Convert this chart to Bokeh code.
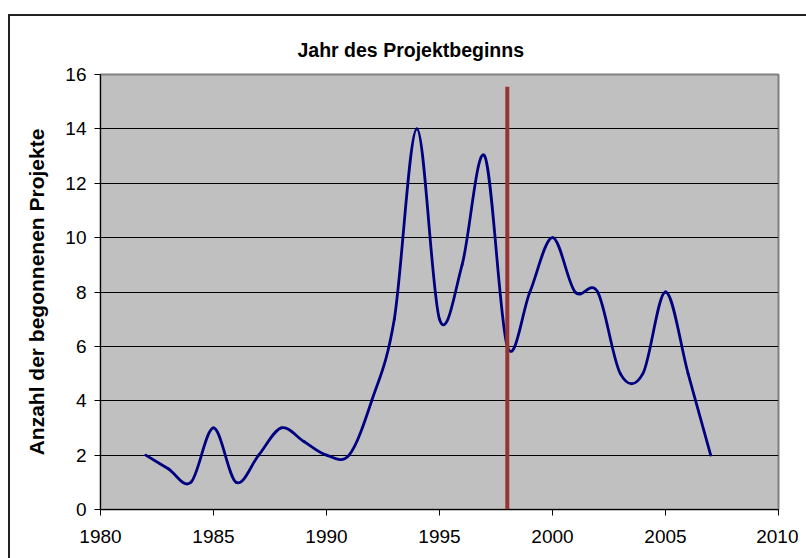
import numpy as np
from bokeh.plotting import figure
from bokeh.models import Range1d, FixedTicker
from bokeh.embed import file_html
from bokeh.resources import INLINE

# ---- data ----
years = [1982, 1983, 1984, 1985, 1986, 1987, 1988, 1989, 1990, 1991, 1992, 1993, 1994,
         1995, 1996, 1997, 1998, 1999, 2000, 2001, 2002, 2003, 2004, 2005, 2006, 2007]
projects = [2, 1.5, 1, 3, 1, 2, 3, 2.5, 2, 2, 4, 7, 14,
            7, 9, 13, 6, 8, 10, 8, 8, 5, 5, 8, 5, 2]
marker_years = [1998, 1998]
marker_values = [0, 15.55]
x_ticks = [1980, 1985, 1990, 1995, 2000, 2005, 2010]
y_ticks = [0, 2, 4, 6, 8, 10, 12, 14, 16]

title_text = "Jahr des Projektbeginns"
y_label = "Anzahl der begonnenen Projekte"

# ---- smoothed curve (Excel-style Catmull-Rom Bezier segments) ----
x = np.array(years, dtype=float)
y = np.array(projects, dtype=float)
n = len(x)
xp = np.concatenate([[x[0]], x, [x[-1]]])
yp = np.concatenate([[y[0]], y, [y[-1]]])
cx0 = x[:-1] + (xp[2:n + 1] - xp[0:n - 1]) / 6
cy0 = y[:-1] + (yp[2:n + 1] - yp[0:n - 1]) / 6
cx1 = x[1:] - (xp[3:n + 2] - xp[1:n]) / 6
cy1 = y[1:] - (yp[3:n + 2] - yp[1:n]) / 6

FONT = "Liberation Sans"

p = figure(width=798, height=554, output_backend="svg", toolbar_location=None,
           x_range=Range1d(1980, 2010), y_range=Range1d(0, 16),
           min_border_left=100, min_border_top=74, min_border_right=20, min_border_bottom=45,
           frame_width=678, frame_height=435)
p.stylesheets = [":host::before { content: ''; position: absolute; left: 8px; top: 14px; "
                 "right: -20px; bottom: -20px; border-top: 2px solid #222; "
                 "border-left: 2px solid #222; pointer-events: none; z-index: 10; }"]

p.background_fill_color = "#C0C0C0"
p.border_fill_color = "white"
p.outline_line_color = "#808080"
p.outline_line_width = 2

p.title.text = title_text
p.title.text_font = FONT
p.title.text_font_size = "19.5px"
p.title.text_font_style = "bold"
p.title.text_color = "black"
p.title.align = "left"
p.title.offset = 197
p.title.standoff = 28

p.xgrid.grid_line_color = None
p.ygrid.grid_line_color = "black"
p.ygrid.grid_line_width = 1
p.ygrid.ticker = FixedTicker(ticks=y_ticks)

for ax in (p.xaxis[0], p.yaxis[0]):
    ax.axis_line_color = "black"
    ax.axis_line_width = 1
    ax.major_tick_line_color = "black"
    ax.major_tick_in = 0
    ax.major_tick_out = 6
    ax.minor_tick_line_color = None
    ax.major_label_text_font = FONT
    ax.major_label_text_font_size = "19px"
    ax.major_label_text_color = "black"

p.xaxis.ticker = FixedTicker(ticks=x_ticks)
p.yaxis.ticker = FixedTicker(ticks=y_ticks)
p.xaxis.major_label_standoff = 14
p.yaxis.major_label_standoff = 8

p.yaxis.axis_label = y_label
p.yaxis.axis_label_text_font = FONT
p.yaxis.axis_label_text_font_size = "21px"
p.yaxis.axis_label_text_font_style = "bold"
p.yaxis.axis_label_text_color = "black"
p.yaxis.axis_label_standoff = 14

p.bezier(x0=x[:-1], y0=y[:-1], x1=x[1:], y1=y[1:], cx0=cx0, cy0=cy0, cx1=cx1, cy1=cy1,
         line_color="#000080", line_width=2.8, line_cap="round")

p.line(marker_years, marker_values, line_color="#993333", line_width=4)

open("out.html", "w").write(file_html(p, INLINE))
